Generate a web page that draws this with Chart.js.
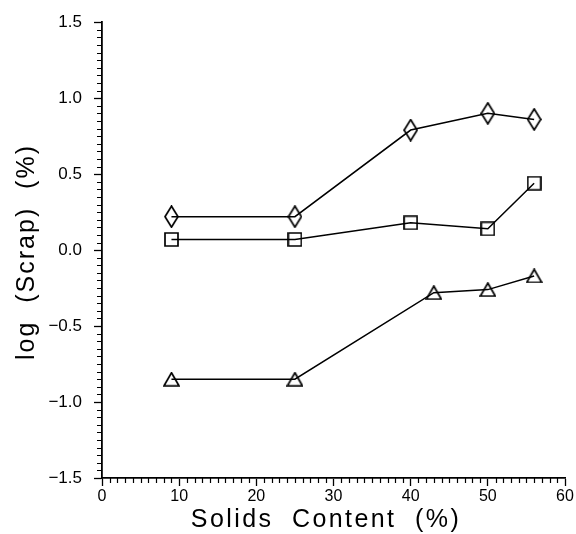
<!DOCTYPE html>
<html>
<head>
<meta charset="utf-8">
<script src="https://cdn.jsdelivr.net/npm/chart.js@4/dist/chart.umd.min.js"></script>
<style>
  html, body { margin: 0; padding: 0; background: #fff; }
  #wrap { width: 576px; height: 534px; }
</style>
</head>
<body>
<div id="wrap"><canvas id="chart"></canvas></div>
<script>
// Solids content (%) and log(scrap) (%) for the three series
const xDiamond = [9, 25, 40, 50, 56];
const yDiamond = [0.22, 0.22, 0.79, 0.90, 0.86];
const xSquare = [9, 25, 40, 50, 56];
const ySquare = [0.07, 0.07, 0.18, 0.14, 0.44];
const xTriangle = [9, 25, 43, 50, 56];
const yTriangle = [-0.85, -0.85, -0.28, -0.26, -0.17];

const xTicks = [0, 10, 20, 30, 40, 50, 60];
const yTicks = [-1.5, -1.0, -0.5, 0.0, 0.5, 1.0, 1.5];

const xTitle = 'Solids  Content  (%)';
const yTitle = 'log  (Scrap)  (%)';

const FONT = "'Liberation Sans', Arial, sans-serif";

// marker images: open black outlines
function marker(w, h, draw) {
  const c = document.createElement('canvas');
  c.width = w; c.height = h;
  const g = c.getContext('2d');
  g.strokeStyle = '#000'; g.lineWidth = 1.7;
  g.beginPath(); draw(g, w, h); g.closePath(); g.stroke();
  return c;
}
const diamond = marker(15, 23, (g, w, h) => {
  g.moveTo(w / 2, 1); g.lineTo(w - 1, h / 2); g.lineTo(w / 2, h - 1); g.lineTo(1, h / 2);
});
const square = marker(15, 15, (g, w, h) => { g.rect(1, 1, w - 2, h - 2); });
const triangle = marker(17, 15, (g, w, h) => {
  g.moveTo(w / 2, 1); g.lineTo(w - 1, h - 1); g.lineTo(1, h - 1);
});

const pts = (xs, ys) => xs.map((x, i) => ({ x, y: ys[i] }));
const series = (data, style) => ({
  data, showLine: true, borderColor: '#000', borderWidth: 1.5,
  pointStyle: style, pointRadius: 8, pointHoverRadius: 8, tension: 0
});

// minor ticks (outward) and the spaced-out axis titles
const extras = {
  id: 'extras',
  afterDraw(chart) {
    const { ctx, scales: { x, y } } = chart;
    ctx.save();
    ctx.strokeStyle = '#000'; ctx.lineWidth = 1.2;
    ctx.beginPath();
    for (let v = 1; v < 60; v++) {
      if (v % 10 === 0) continue;
      const px = Math.round(x.getPixelForValue(v)) + 0.5;
      ctx.moveTo(px, y.bottom); ctx.lineTo(px, y.bottom + 5);
    }
    for (let k = -30; k <= 30; k++) {
      if (k % 10 === 0) continue;
      const py = Math.round(y.getPixelForValue(k * 0.05)) + 0.5;
      ctx.moveTo(x.left, py); ctx.lineTo(x.left - 5, py);
    }
    ctx.stroke();

    ctx.fillStyle = '#000';
    ctx.font = '25px ' + FONT;
    ctx.textAlign = 'center';
    ctx.textBaseline = 'alphabetic';
    ctx.letterSpacing = '2.4px';
    ctx.fillText(xTitle, 326, 527);
    ctx.letterSpacing = '2px';
    ctx.translate(34, 252);
    ctx.rotate(-Math.PI / 2);
    ctx.fillText(yTitle, 0, 0);
    ctx.restore();
  }
};

new Chart(document.getElementById('chart'), {
  type: 'scatter',
  data: {
    datasets: [
      series(pts(xDiamond, yDiamond), diamond),
      series(pts(xSquare, ySquare), square),
      series(pts(xTriangle, yTriangle), triangle)
    ]
  },
  options: {
    responsive: true, maintainAspectRatio: false, animation: false,
    layout: { padding: { top: 20, right: 11, left: 0, bottom: 0 } },
    plugins: { legend: { display: false }, tooltip: { enabled: false } },
    scales: {
      x: {
        type: 'linear', min: 0, max: 60,
        afterBuildTicks: s => { s.ticks = xTicks.map(v => ({ value: v })); },
        afterFit: s => { s.height = 56; },
        ticks: { color: '#000', font: { family: FONT, size: 16 }, padding: 1, maxRotation: 0 },
        grid: { drawOnChartArea: false, color: '#000', tickLength: 8, tickWidth: 1.3 },
        border: { color: '#000', width: 1.8 }
      },
      y: {
        type: 'linear', min: -1.5, max: 1.5,
        afterBuildTicks: s => { s.ticks = yTicks.map(v => ({ value: v })); },
        afterFit: s => { s.width = 102; },
        ticks: { color: '#000', font: { family: FONT, size: 17 }, padding: 12,
                 callback: v => (v < 0 ? '\u2212' : '') + Math.abs(v).toFixed(1) },
        grid: { drawOnChartArea: false, color: '#000', tickLength: 8, tickWidth: 1.3 },
        border: { color: '#000', width: 1.8 }
      }
    }
  },
  plugins: [extras]
});
</script>
</body>
</html>
